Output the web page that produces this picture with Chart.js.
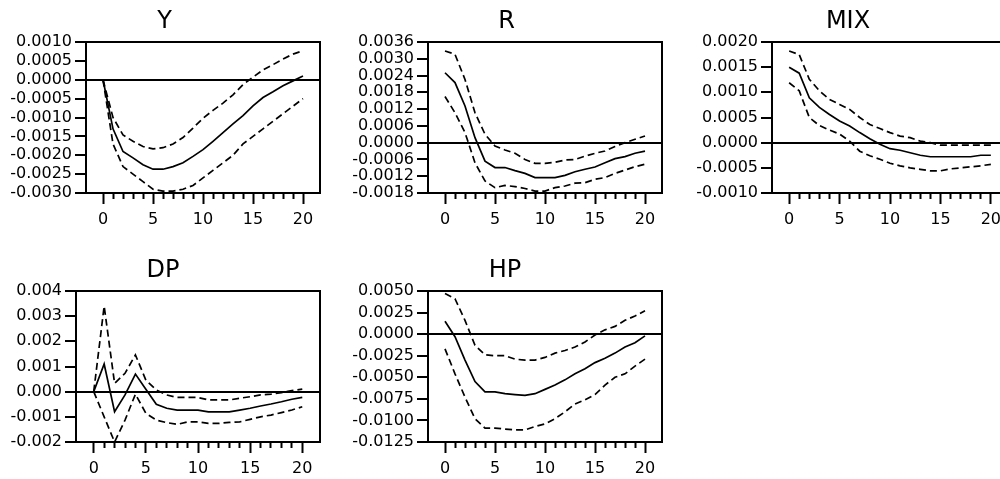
<!DOCTYPE html>
<html>
<head>
<meta charset="utf-8">
<script src="https://cdn.jsdelivr.net/npm/chart.js@4"></script>
<style>
html, body { margin: 0; padding: 0; background: #fff; overflow: hidden; }
#wrap { position: relative; width: 1000px; height: 479px; overflow: hidden; }
canvas { position: absolute; }
</style>
</head>
<body>
<div id="wrap"></div>
<script>
// ---- horizon (x axis) ----
const steps = [0, 1, 2, 3, 4, 5, 6, 7, 8, 9, 10, 11, 12, 13, 14, 15, 16, 17, 18, 19, 20];

// ---- Y ----
const yMid   = [0, -0.0013, -0.0019, -0.00207, -0.00225, -0.00237, -0.00237, -0.0023, -0.0022, -0.00203, -0.00185, -0.00163, -0.0014, -0.00117, -0.00095, -0.00069, -0.00047, -0.00032, -0.00016, -0.00003, 0.0001];
const yUpper = [0, -0.001, -0.00146, -0.00163, -0.00177, -0.00183, -0.0018, -0.0017, -0.00153, -0.00128, -0.00102, -0.00081, -0.00062, -0.0004, -0.00013, 0.00007, 0.00026, 0.0004, 0.00055, 0.00068, 0.00077];
const yLower = [0, -0.0017, -0.0023, -0.0025, -0.0027, -0.0029, -0.00295, -0.00295, -0.0029, -0.0028, -0.0026, -0.0024, -0.0022, -0.002, -0.0017, -0.0015, -0.0013, -0.0011, -0.0009, -0.0007, -0.0005];
const yTicksY = [-0.003, -0.0025, -0.002, -0.0015, -0.001, -0.0005, 0, 0.0005, 0.001];

// ---- R ----
const rMid   = [0.0025, 0.00215, 0.00131, 0.00018, -0.00066, -0.00089, -0.00089, -0.001, -0.0011, -0.00125, -0.00125, -0.00125, -0.00117, -0.00104, -0.00095, -0.00087, -0.00072, -0.00057, -0.0005, -0.00038, -0.0003];
const rUpper = [0.00328, 0.00316, 0.00226, 0.00107, 0.0003, -0.00012, -0.00026, -0.00038, -0.0006, -0.00074, -0.00074, -0.0007, -0.00062, -0.0006, -0.00048, -0.00038, -0.0003, -0.00014, 0, 0.00012, 0.00024];
const rLower = [0.00165, 0.00107, 0.00036, -0.00072, -0.00137, -0.00161, -0.00153, -0.00157, -0.00164, -0.00173, -0.00173, -0.00161, -0.00155, -0.00145, -0.00143, -0.00131, -0.00125, -0.0011, -0.00098, -0.00086, -0.00077];
const yTicksR = [-0.0018, -0.0012, -0.0006, 0, 0.0006, 0.0012, 0.0018, 0.0024, 0.003, 0.0036];

// ---- MIX ----
const mixMid   = [0.0015, 0.00138, 0.00089, 0.0007, 0.00056, 0.00043, 0.00033, 0.0002, 0.00008, -0.00003, -0.00012, -0.00015, -0.0002, -0.00025, -0.00028, -0.00028, -0.00028, -0.00028, -0.00028, -0.00025, -0.00025];
const mixUpper = [0.00182, 0.00175, 0.00126, 0.00103, 0.00086, 0.00076, 0.00066, 0.0005, 0.00036, 0.00028, 0.0002, 0.00013, 0.0001, 0.00003, 0, -0.00005, -0.00005, -0.00005, -0.00005, -0.00005, -0.00005];
const mixLower = [0.00119, 0.00103, 0.0005, 0.00034, 0.00025, 0.00017, 0.00003, -0.00017, -0.00026, -0.00033, -0.00041, -0.00046, -0.0005, -0.00053, -0.00056, -0.00056, -0.00052, -0.0005, -0.00048, -0.00046, -0.00043];
const yTicksMix = [-0.001, -0.0005, 0, 0.0005, 0.001, 0.0015, 0.002];

// ---- DP ----
const dpMid   = [0, 0.0011, -0.0008, -0.00013, 0.0007, 0.0001, -0.0005, -0.00066, -0.00073, -0.00073, -0.00073, -0.0008, -0.0008, -0.0008, -0.00073, -0.00066, -0.00057, -0.00049, -0.0004, -0.0003, -0.00023];
const dpUpper = [0, 0.0034, 0.00033, 0.00073, 0.00146, 0.00046, 0.00007, -0.00013, -0.00023, -0.00023, -0.00023, -0.00033, -0.00033, -0.00033, -0.00026, -0.0002, -0.00013, -0.0001, -0.00004, 0.00004, 0.0001];
const dpLower = [0, -0.001, -0.002, -0.00113, -0.0001, -0.00086, -0.00113, -0.00123, -0.0013, -0.0012, -0.0012, -0.00126, -0.00126, -0.00122, -0.0012, -0.0011, -0.001, -0.00093, -0.00083, -0.00073, -0.0006];
const yTicksDp = [-0.002, -0.001, 0, 0.001, 0.002, 0.003, 0.004];

// ---- HP ----
const hpMid   = [0.0015, -0.0003, -0.003, -0.0055, -0.0067, -0.0067, -0.0069, -0.007, -0.0071, -0.0069, -0.0064, -0.0059, -0.0053, -0.0046, -0.004, -0.0033, -0.0028, -0.0022, -0.0015, -0.001, -0.0002];
const hpUpper = [0.0047, 0.0041, 0.0016, -0.0013, -0.0024, -0.0025, -0.0025, -0.0029, -0.003, -0.003, -0.0027, -0.0022, -0.0019, -0.0015, -0.0009, -0.0001, 0.0005, 0.0009, 0.0016, 0.0021, 0.0027];
const hpLower = [-0.0017, -0.0046, -0.0073, -0.0098, -0.0109, -0.0109, -0.011, -0.0111, -0.0111, -0.0107, -0.0104, -0.0098, -0.009, -0.0081, -0.0076, -0.007, -0.0059, -0.005, -0.0046, -0.0037, -0.0029];
const yTicksHp = [-0.0125, -0.01, -0.0075, -0.005, -0.0025, 0, 0.0025, 0.005];

// panel layout: box = [left, top, right, bottom] of the plot frame on the page, tc = title centre
const panels = [
    { title: "Y",   mid: yMid,   hi: yUpper,   lo: yLower,   ticks: yTicksY,   dec: 4, box: [86, 42, 320, 193],   tc: 168 },
    { title: "R",   mid: rMid,   hi: rUpper,   lo: rLower,   ticks: yTicksR,   dec: 4, box: [428, 42, 662, 193],  tc: 510 },
    { title: "MIX", mid: mixMid, hi: mixUpper, lo: mixLower, ticks: yTicksMix, dec: 4, box: [772, 42, 1008, 193], tc: 850 },
    { title: "DP",  mid: dpMid,  hi: dpUpper,  lo: dpLower,  ticks: yTicksDp,  dec: 3, box: [76, 291, 320, 442],  tc: 165 },
    { title: "HP",  mid: hpMid,  hi: hpUpper,  lo: hpLower,  ticks: yTicksHp,  dec: 4, box: [428, 291, 662, 442], tc: 507 }
];

const labelFont = "16px 'DejaVu Sans'";
Chart.defaults.font.family = "DejaVu Sans";
Chart.defaults.color = "#000";

// frame around the plot area
const frame = {
    id: "frame",
    afterDatasetsDraw(chart) {
        const a = chart.chartArea;
        const ctx = chart.ctx;
        ctx.save();
        ctx.lineWidth = 2;
        ctx.strokeStyle = "#000";
        ctx.strokeRect(a.left, a.top, a.right - a.left, a.bottom - a.top);
        ctx.restore();
    }
};

const fmt = (v, dec) => (Math.abs(v) < 1e-12 ? 0 : v).toFixed(dec);
const toPts = arr => arr.map((v, i) => ({ x: steps[i], y: v }));
const meas = document.createElement("canvas").getContext("2d");
meas.font = labelFont;

panels.forEach(p => {
    const [L, T, R, B] = p.box;
    const padR = 4;
    // widest tick label, so the axis box holds it (labels are clipped to the axis box)
    const labelW = Math.max(...p.ticks.map(v => meas.measureText(fmt(v, p.dec)).width));
    const left = Math.floor(Math.min(2 * p.tc - R - padR, L - 14 - labelW - 1));
    const top = T - 42;
    const W = R + padR - left;
    const H = B - T + 82;

    const cv = document.createElement("canvas");
    cv.width = W;
    cv.height = H;
    cv.style.left = left + "px";
    cv.style.top = top + "px";
    document.getElementById("wrap").appendChild(cv);

    new Chart(cv, {
        type: "line",
        data: {
            datasets: [
                { data: toPts(p.hi), borderColor: "#000", borderWidth: 1.7, borderDash: [7, 4], pointRadius: 0, tension: 0 },
                { data: toPts(p.lo), borderColor: "#000", borderWidth: 1.7, borderDash: [7, 4], pointRadius: 0, tension: 0 },
                { data: toPts(p.mid), borderColor: "#000", borderWidth: 1.7, pointRadius: 0, tension: 0 }
            ]
        },
        options: {
            responsive: false,
            animation: false,
            devicePixelRatio: 1,
            layout: { padding: { left: 0, right: padR, top: 0, bottom: 0 } },
            plugins: {
                legend: { display: false },
                tooltip: { enabled: false },
                title: {
                    display: true,
                    text: p.title,
                    color: "#000",
                    font: { family: "DejaVu Sans", size: 24, weight: "normal" },
                    padding: { top: 7, bottom: 6.2 }
                }
            },
            scales: {
                x: {
                    type: "linear",
                    min: -1.7,
                    max: 21.7,
                    afterBuildTicks: s => { s.ticks = steps.map(v => ({ value: v })); },
                    afterFit: s => { s.height = 40; },
                    border: { display: false },
                    grid: {
                        drawOnChartArea: false,
                        tickLength: 11,
                        tickWidth: 2,
                        tickColor: "#000",
                        tickBorderDash: c => (c.tick && c.tick.value % 5 === 0) ? [] : [6, 40]
                    },
                    ticks: {
                        autoSkip: false,
                        maxRotation: 0,
                        padding: 6,
                        color: "#000",
                        font: { size: 16 },
                        callback: v => (v % 5 === 0 ? String(v) : "")
                    }
                },
                y: {
                    min: p.ticks[0],
                    max: p.ticks[p.ticks.length - 1],
                    afterBuildTicks: s => { s.ticks = p.ticks.map(v => ({ value: v })); },
                    afterFit: s => { s.width = L - left; },
                    border: { display: false },
                    grid: {
                        lineWidth: 2,
                        color: c => (c.tick && Math.abs(c.tick.value) < 1e-12) ? "#000" : "rgba(0,0,0,0)",
                        tickLength: 11,
                        tickWidth: 2,
                        tickColor: "#000"
                    },
                    ticks: {
                        autoSkip: false,
                        padding: 3,
                        color: "#000",
                        font: { size: 16 },
                        callback: v => fmt(v, p.dec)
                    }
                }
            }
        },
        plugins: [frame]
    });
});
</script>
</body>
</html>
